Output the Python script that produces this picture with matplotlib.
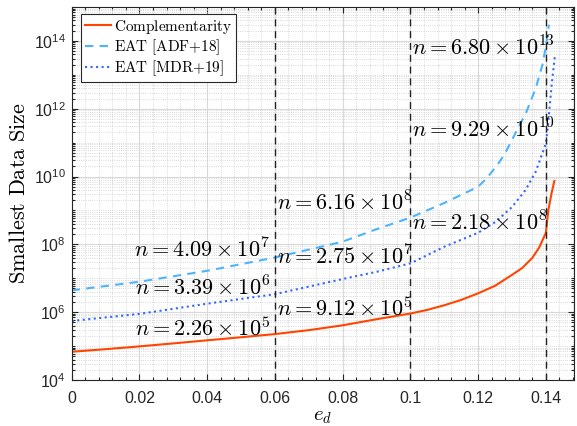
import numpy as np
import matplotlib
matplotlib.use("Agg")
import matplotlib.pyplot as plt
from matplotlib.ticker import FixedLocator, FuncFormatter, MultipleLocator, LogLocator, NullFormatter

plt.rcParams['mathtext.fontset'] = 'cm'

# ---------------- data ----------------
x_comp = [0, 0.01, 0.02, 0.03, 0.04, 0.05, 0.06, 0.07, 0.08, 0.09, 0.1, 0.105, 0.11,
          0.115, 0.12, 0.125, 0.13, 0.133, 0.136, 0.138, 0.14, 0.1407, 0.1417, 0.1425]
n_comp = [6.8e4, 8.1e4, 9.8e4, 1.2e5, 1.48e5, 1.82e5, 2.26e5, 2.95e5, 4.1e5, 6.2e5, 9.12e5,
          1.17e6, 1.6e6, 2.3e6, 3.6e6, 6.0e6, 1.26e7, 2.0e7, 4.0e7, 8.0e7, 2.18e8, 1.0e9,
          3.3e9, 7.4e9]

x_adf = [0, 0.02, 0.04, 0.06, 0.08, 0.09, 0.1, 0.11, 0.12, 0.1225, 0.125, 0.1275, 0.13,
         0.132, 0.134, 0.137, 0.139, 0.14, 0.1409]
n_adf = [4.4e6, 7.9e6, 1.66e7, 4.09e7, 1.2e8, 2.8e8, 6.16e8, 1.66e9, 5.0e9, 8.9e9, 1.8e10,
         4.0e10, 1.2e11, 3.0e11, 7.0e11, 4.0e12, 2.0e13, 6.8e13, 3.0e14]

x_mdr = [0, 0.02, 0.04, 0.06, 0.08, 0.09, 0.1, 0.11, 0.12, 0.125, 0.13, 0.134, 0.137,
         0.14, 0.1407, 0.1417, 0.1427]
n_mdr = [5.5e5, 8.9e5, 1.78e6, 3.39e6, 9.5e6, 1.55e7, 2.75e7, 8.5e7, 2.2e8, 4.5e8, 1.26e9,
         4.0e9, 1.4e10, 9.29e10, 4.0e11, 5.0e12, 3.9e13]

vlines_x = [0.06, 0.1, 0.14]

# annotation labels: (mantissa, exponent)
ann_mant = ["2.26", "3.39", "4.09", "9.12", "2.75", "6.16", "2.18", "9.29", "6.80"]
ann_exp = [5, 6, 7, 5, 7, 8, 8, 10, 13]

series_labels = [r"$\mathrm{Complementarity}$",
                 r"$\mathrm{EAT\ [ADF{+}18]}$",
                 r"$\mathrm{EAT\ [MDR{+}19]}$"]
xticks = [0, 0.02, 0.04, 0.06, 0.08, 0.1, 0.12, 0.14]
yticks_exp = [4, 6, 8, 10, 12, 14]

# ---------------- plot ----------------
fig = plt.figure(figsize=(5.77, 4.26), dpi=100)
ax = fig.add_axes([0.1243, 0.108, 0.8705, 0.8756])

c_red = '#FF4500'
c_dash = '#4DB3FF'
c_dot = '#3366FF'

ax.plot(x_comp, n_comp, '-', color=c_red, lw=1.5, label=series_labels[0])
ax.plot(x_adf, n_adf, '--', color=c_dash, lw=1.5, label=series_labels[1],
        dashes=(4, 3))
ax.plot(x_mdr, n_mdr, ':', color=c_dot, lw=1.5, label=series_labels[2])

for xv in vlines_x:
    ax.axvline(xv, color='#222222', ls='--', lw=1.0, dashes=(5, 3.5), zorder=3)

ax.set_yscale('log')
ax.set_xlim(0, 0.1483)
ax.set_ylim(1e4, 1e15)

ax.xaxis.set_major_locator(FixedLocator(xticks))
ax.xaxis.set_major_formatter(FuncFormatter(lambda v, p: ('%g' % v)))
ax.xaxis.set_minor_locator(MultipleLocator(0.004))
ax.yaxis.set_major_locator(FixedLocator([10.0 ** e for e in yticks_exp]))
ax.yaxis.set_major_formatter(FuncFormatter(
    lambda v, p: r'$\mathregular{10^{%d}}$' % int(round(np.log10(v)))))
ax.yaxis.set_minor_locator(LogLocator(base=10, subs=np.arange(1, 10), numticks=40))
ax.yaxis.set_minor_formatter(NullFormatter())

ax.grid(True, which='major', color='#d9d9d9', lw=0.8, ls='-')
ax.grid(True, which='minor', color='#cccccc', lw=0.6, ls=':')
ax.set_axisbelow(True)

ax.tick_params(which='both', direction='in', top=True, right=True, width=0.8,
               color='#262626')
ax.tick_params(which='major', length=4)
ax.tick_params(which='minor', length=2)
ax.tick_params(axis='x', which='major', pad=8)
ax.tick_params(axis='y', which='major', pad=4)
for lab in ax.get_xticklabels() + ax.get_yticklabels():
    lab.set_family('Liberation Sans')
    lab.set_fontsize(11.5)
    lab.set_color('#262626')
for sp in ax.spines.values():
    sp.set_color('#262626')
    sp.set_linewidth(0.8)

ax.set_xlabel(r'$e_d$', fontsize=15, labelpad=0)
ax.set_ylabel(r'$\mathrm{Smallest\ Data\ Size}$', fontsize=16, labelpad=4)

# annotations
ann_pos = [
    (0.0585, 10 ** 5.534, 'right'),
    (0.0585, 10 ** 6.714, 'right'),
    (0.0585, 10 ** 7.835, 'right'),
    (0.0606, 10 ** 6.124, 'left'),
    (0.0606, 10 ** 7.628, 'left'),
    (0.0606, 10 ** 9.221, 'left'),
    (0.1004, 10 ** 8.631, 'left'),
    (0.1004, 10 ** 11.375, 'left'),
    (0.1004, 10 ** 13.794, 'left'),
]
for (xp, yp, ha), m, e in zip(ann_pos, ann_mant, ann_exp):
    ax.text(xp, yp, r'$n = %s \times 10^{%d}$' % (m, e), ha=ha, va='center',
            fontsize=16, zorder=5)

leg = ax.legend(loc='upper left', bbox_to_anchor=(0.012, 0.99), fontsize=11,
                frameon=True, fancybox=False, framealpha=1, edgecolor='#262626',
                borderpad=0.25, labelspacing=0.1, handlelength=1.7, handletextpad=0.2,
                borderaxespad=0.2)
leg.get_frame().set_linewidth(0.8)

fig.savefig('out.png', dpi=100)
